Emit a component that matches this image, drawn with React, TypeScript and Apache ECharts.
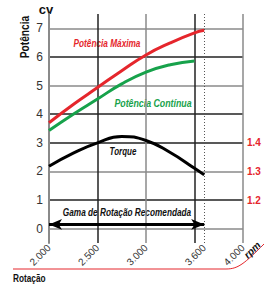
import React, { useEffect, useRef } from "react";
import * as echarts from "echarts";

const rpm = [2000, 2250, 2500, 2750, 3000, 3250, 3500, 3600];
const potenciaMaxima = [3.7, 4.34, 4.93, 5.52, 6.07, 6.49, 6.84, 6.93];
const potenciaContinua = [3.43, 4.0, 4.53, 5.06, 5.47, 5.73, 5.86];
const torque = [1.318, 1.364, 1.4, 1.422, 1.408, 1.366, 1.311, 1.288];
const yTicks = [0, 1, 2, 3, 4, 5, 6, 7];
const xGrid = [2000, 2500, 3000, 3500, 4000];
const xLabels = [2000, 2500, 3000, 3600, 4000];
const torqueLabels = [1.2, 1.3, 1.4];
const rangeStart = 2000;
const rangeEnd = 3600;
const rangeArrowY = 0.15;

const RED = "#e5262c";
const GREEN = "#17a24b";
const DARK = "#222222";
const GRAY = "#8a8a8a";
const FONT = "'Liberation Sans', Arial, sans-serif";

export default function App() {
  const ref = useRef<HTMLDivElement>(null);
  useEffect(() => {
    if (!ref.current) return;
    const chart = echarts.init(ref.current, undefined, { renderer: "svg" });
    chart.setOption({
      animation: false,
      grid: { left: 49, right: 22, top: 14, bottom: 41 },
      xAxis: {
        type: "value",
        min: 2000,
        max: 4000,
        axisLine: { show: false },
        axisTick: { show: false, customValues: xGrid },
        splitLine: {
          show: true,
          lineStyle: { color: [GRAY, DARK, GRAY, DARK, GRAY], width: 1.5 },
        },
        axisLabel: {
          customValues: xLabels,
          rotate: 45,
          margin: 3,
          fontSize: 10,
          color: "#333",
          fontFamily: FONT,
          formatter: (v: number) => String(v).replace(/(\d)(\d{3})$/, "$1.$2"),
        },
      },
      yAxis: [
        {
          type: "value",
          min: -0.5,
          max: 7.5,
          axisLine: { show: true, lineStyle: { color: GRAY, width: 2 } },
          axisTick: { show: false, customValues: yTicks },
          axisLabel: {
            customValues: yTicks,
            margin: 6,
            fontSize: 12,
            color: "#333",
            fontFamily: FONT,
          },
          splitLine: {
            show: true,
            lineStyle: {
              color: [GRAY, DARK, GRAY, DARK, DARK, GRAY, DARK, GRAY],
              width: 1.5,
            },
          },
        },
        {
          type: "value",
          position: "right",
          min: 1.05,
          max: 1.85,
          axisLine: { show: false },
          axisTick: { show: false, customValues: torqueLabels },
          splitLine: { show: false },
          axisLabel: {
            customValues: torqueLabels,
            margin: 4,
            fontSize: 10,
            fontWeight: "bold",
            color: RED,
            fontFamily: FONT,
            formatter: (v: number) => v.toFixed(1),
          },
        },
      ],
      series: [
        {
          type: "line",
          name: "Potência Máxima",
          data: rpm.map((r, i) => [r, potenciaMaxima[i]]),
          smooth: true,
          symbol: "none",
          lineStyle: { color: RED, width: 3 },
          z: 5,
        },
        {
          type: "line",
          name: "Potência Contínua",
          data: potenciaContinua.map((v, i) => [rpm[i], v]),
          smooth: true,
          symbol: "none",
          lineStyle: { color: GREEN, width: 3 },
          z: 5,
        },
        {
          type: "line",
          name: "Torque",
          yAxisIndex: 1,
          data: rpm.map((r, i) => [r, torque[i]]),
          smooth: true,
          symbol: "none",
          lineStyle: { color: "#000", width: 3 },
          z: 5,
          markLine: {
            silent: true,
            symbol: "none",
            label: { show: false },
            lineStyle: { color: "#555", type: [1, 2], width: 1 },
            data: [{ xAxis: rangeEnd }],
          },
        },
        {
          type: "line",
          data: [],
          markLine: {
            silent: true,
            symbol: ["arrow", "arrow"],
            symbolSize: [8, 13],
            label: { show: false },
            lineStyle: { color: "#000", type: "solid", width: 3 },
            data: [
              [
                { coord: [rangeStart, rangeArrowY] },
                { coord: [rangeEnd, rangeArrowY] },
              ],
            ],
          },
          z: 6,
        },
      ],
      graphic: [
        {
          type: "text",
          x: 46,
          y: 9,
          style: { text: "cv", font: `bold 13px ${FONT}`, fill: "#111", align: "center", verticalAlign: "middle" },
        },
        {
          type: "text",
          x: 25,
          y: 37,
          rotation: Math.PI / 2,
          scaleX: 0.85,
          style: {
            text: "Potência",
            font: `bold 12px ${FONT}`,
            fill: "#111",
            align: "center",
            verticalAlign: "middle",
          },
        },
        {
          type: "text",
          x: 107,
          y: 43,
          scaleX: 0.75,
          style: {
            text: "Potência Máxima",
            font: `italic bold 11px ${FONT}`,
            fill: RED,
            align: "center",
            verticalAlign: "middle",
          },
        },
        {
          type: "text",
          x: 153,
          y: 103,
          scaleX: 0.8,
          style: {
            text: "Potência Contínua",
            font: `italic bold 11px ${FONT}`,
            fill: GREEN,
            align: "center",
            verticalAlign: "middle",
          },
        },
        {
          type: "text",
          x: 123,
          y: 152,
          scaleX: 0.8,
          style: {
            text: "Torque",
            font: `italic bold 10px ${FONT}`,
            fill: "#111",
            align: "center",
            verticalAlign: "middle",
          },
        },
        {
          type: "text",
          x: 127,
          y: 212,
          scaleX: 0.75,
          style: {
            text: "Gama de Rotação Recomendada",
            font: `italic bold 11px ${FONT}`,
            fill: "#111",
            align: "center",
            verticalAlign: "middle",
          },
        },
        {
          type: "polyline",
          shape: { points: [[13, 269], [226, 269]] },
          style: { stroke: RED, lineWidth: 1, fill: null },
        },
        {
          type: "bezierCurve",
          shape: { x1: 226, y1: 269, cpx1: 238, cpy1: 269, cpx2: 244, cpy2: 264, x2: 264, y2: 244 },
          style: { stroke: RED, lineWidth: 1, fill: null },
        },
        {
          type: "text",
          x: 249,
          y: 260,
          rotation: Math.PI / 4,
          style: {
            text: "rpm",
            font: `italic bold 10px ${FONT}`,
            fill: "#111",
            align: "left",
            verticalAlign: "bottom",
          },
        },
        {
          type: "text",
          x: 13,
          y: 278,
          scaleX: 0.75,
          style: {
            text: "Rotação",
            font: `bold 11px ${FONT}`,
            fill: "#111",
            align: "left",
            verticalAlign: "middle",
          },
        },
      ],
    });
    return () => chart.dispose();
  }, []);
  return <div ref={ref} style={{ width: 265, height: 284, position: "absolute", left: 0, top: 0 }} />;
}
